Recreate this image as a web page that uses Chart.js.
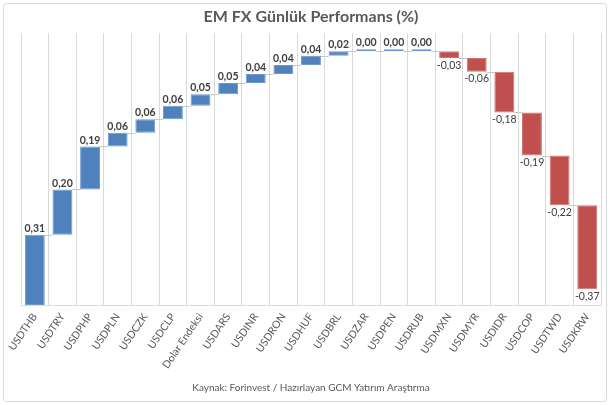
<!DOCTYPE html>
<html lang="tr">
<head>
<meta charset="UTF-8">
<title>EM FX Günlük Performans (%)</title>
<script src="https://cdn.jsdelivr.net/npm/chart.js"></script>
<style>
  body { margin: 0; background: #fff; }
  #wrap { width: 610px; height: 405px; }
</style>
</head>
<body>
<div id="wrap"><canvas id="chartCanvas" width="610" height="405"></canvas></div>
<script>
// daily performance of EM currencies vs USD (%)
const categories = ["USDTHB", "USDTRY", "USDPHP", "USDPLN", "USDCZK", "USDCLP", "Dolar Endeksi",
  "USDARS", "USDINR", "USDRON", "USDHUF", "USDBRL", "USDZAR", "USDPEN", "USDRUB",
  "USDMXN", "USDMYR", "USDIDR", "USDCOP", "USDTWD", "USDKRW"];
const changes = [0.31, 0.20, 0.19, 0.06, 0.06, 0.06, 0.05, 0.05, 0.04, 0.04, 0.04, 0.02, 0.00, 0.00, 0.00,
  -0.03, -0.06, -0.18, -0.19, -0.22, -0.37];

const BLUE = "#4F81BD";
const RED = "#C0504D";

// waterfall: each bar floats from the running total before it to the total after it
const levels = [];
const bars = [];
let run = 0;
changes.forEach(v => {
  bars.push([run, run + v]);
  run += v;
  levels.push(run);
});

const fmt = v => v.toFixed(2).replace(".", ",");

const frameBorder = {
  id: "frameBorder",
  beforeDraw(chart) {
    const ctx = chart.ctx;
    ctx.save();
    ctx.fillStyle = "#fff";
    ctx.fillRect(0, 0, chart.width, chart.height);
    ctx.strokeStyle = "#D9D9D9";
    ctx.lineWidth = 1;
    ctx.beginPath();
    ctx.roundRect(3.5, 3.5, chart.width - 7, chart.height - 7, 3);
    ctx.stroke();
    ctx.restore();
  }
};

const connectors = {
  id: "connectors",
  afterDatasetsDraw(chart) {
    const ctx = chart.ctx;
    const meta = chart.getDatasetMeta(0);
    const y = chart.scales.y;
    ctx.save();
    ctx.strokeStyle = "#C8C8C8";
    ctx.lineWidth = 1;
    for (let i = 0; i < meta.data.length - 1; i++) {
      const a = meta.data[i], b = meta.data[i + 1];
      const py = Math.round(y.getPixelForValue(levels[i])) + 0.5;
      ctx.beginPath();
      ctx.moveTo(a.x + a.width / 2, py);
      ctx.lineTo(b.x - b.width / 2, py);
      ctx.stroke();
    }
    ctx.restore();
  }
};

const valueLabels = {
  id: "valueLabels",
  afterDatasetsDraw(chart) {
    const ctx = chart.ctx;
    const meta = chart.getDatasetMeta(0);
    ctx.save();
    ctx.textAlign = "center";
    ctx.fillStyle = "#404040";
    meta.data.forEach((bar, i) => {
      const v = changes[i];
      const top = Math.min(bar.y, bar.base);
      const bottom = Math.max(bar.y, bar.base);
      if (v >= 0) {
        ctx.font = "bold 10.5px Lato";
        ctx.textBaseline = "bottom";
        ctx.fillText(fmt(v), bar.x, top - 1);
      } else {
        ctx.font = "10.5px Lato";
        ctx.textBaseline = "top";
        ctx.fillText(fmt(v), bar.x, bottom + 2);
      }
    });
    ctx.restore();
  }
};

new Chart(document.getElementById("chartCanvas"), {
  type: "bar",
  data: {
    labels: categories,
    datasets: [{
      data: bars,
      backgroundColor: changes.map(v => v < 0 ? RED : BLUE),
      borderColor: changes.map(v => v < 0 ? "#D07270" : "#6F97C9"),
      borderWidth: 1,
      borderSkipped: false,
      minBarLength: 2,
      categoryPercentage: 1,
      barPercentage: 0.72
    }]
  },
  options: {
    responsive: false,
    animation: false,
    layout: { padding: { left: 21, right: 9, top: 0, bottom: 0 } },
    plugins: {
      legend: { display: false },
      tooltip: { enabled: false },
      title: {
        display: true,
        text: "EM FX Günlük Performans (%)",
        color: "#595959",
        font: { family: "Lato", size: 16, weight: "bold" },
        padding: { top: 7, bottom: 7 }
      },
      subtitle: {
        display: true,
        position: "bottom",
        text: "Kaynak: Forinvest / Hazırlayan GCM Yatırım Araştırma",
        color: "#595959",
        font: { family: "Lato", size: 10 },
        padding: { top: 0, bottom: 11 }
      }
    },
    scales: {
      x: {
        grid: { display: true, offset: true, color: "#D9D9D9", drawTicks: false },
        border: { color: "#D9D9D9" },
        ticks: {
          color: "#595959",
          font: { family: "Lato", size: 10.5 },
          minRotation: 56,
          maxRotation: 56,
          autoSkip: false,
          padding: 6
        },
        afterFit: scale => { scale.height = 77; }
      },
      y: {
        display: false,
        min: 0,
        max: 1.2
      }
    }
  },
  plugins: [frameBorder, connectors, valueLabels]
});
</script>
</body>
</html>
